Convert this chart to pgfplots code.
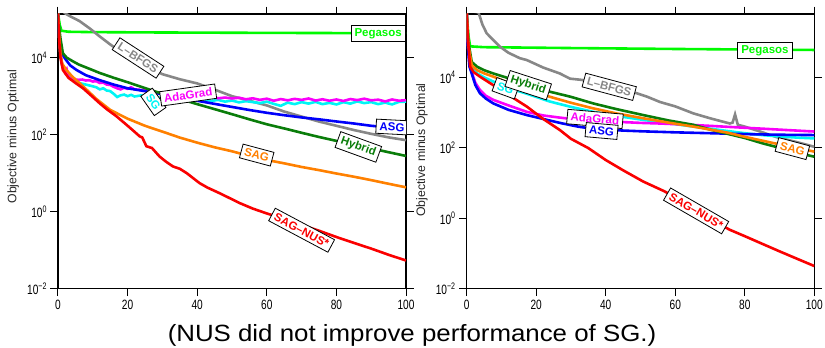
\documentclass[border=0pt]{standalone}
\usepackage{pgfplots}
\pgfplotsset{compat=1.18}
\usepackage{fontspec}
\setmainfont{Liberation Sans}
\newfontfamily\tickfont[FakeStretch=0.75]{Liberation Sans}
\newfontfamily\capfont[FakeStretch=1.1]{Liberation Sans}
\definecolor{cPeg}{RGB}{0,250,0}
\definecolor{cLbf}{RGB}{135,135,135}
\definecolor{cSG}{RGB}{0,245,245}
\definecolor{cAda}{RGB}{250,0,250}
\definecolor{cASG}{RGB}{0,0,250}
\definecolor{cHyb}{RGB}{10,125,10}
\definecolor{cSAG}{RGB}{255,128,0}
\definecolor{cNUS}{RGB}{250,0,0}
\tikzset{lbl/.style={draw=black, line width=0.8pt, fill=white, inner xsep=3.5pt, inner ysep=3pt, font=\bfseries\fontsize{11.5}{12}\selectfont}}
\begin{document}
\begin{tikzpicture}
\useasboundingbox (0,0) rectangle (825pt,348pt);
% ---------------- left panel ----------------
\begin{axis}[at={(58pt,59.3pt)}, anchor=south west,
    scale only axis, width=348pt, height=274.7pt,
    ymode=log, xmin=0, xmax=100, ymin=1e-2, ymax=1.36e5,
    xtick={0,20,40,60,80,100}, xticklabels={0,20,40,60,80,100},
    ytick={1e-2,1,1e2,1e4},
    yticklabels={10\textsuperscript{−2},10\textsuperscript{0},10\textsuperscript{2},10\textsuperscript{4}},
    yminorticks=false, xminorticks=false,
    tick align=outside, major tick length=7.5pt,
    tick style={black, line width=1pt},
    axis line style={line width=1.3pt},
    xticklabel style={font=\tickfont\fontsize{13.5}{15}\selectfont},
    yticklabel style={font=\tickfont\fontsize{13.5}{15}\selectfont},
    ylabel={Objective minus Optimal},
    every axis y label/.style={at={(axis description cs:-0.129,0.553)}, rotate=90, anchor=center, font=\fontsize{12.3}{14}\selectfont, text=black!85}]
\addplot[cPeg, line width=2.6pt] coordinates {(0,1.4e5)(0.5,7.1e4)(1,5.0e4)(3,4.7e4)(10,4.6e4)(30,4.5e4)(60,4.4e4)(100,4.3e4)};
\addplot[cLbf, line width=2.6pt] coordinates {(0,2.0e5)(2.4,1.35e5)(4,1.12e5)(6.2,8.9e4)(9.1,5.75e4)(12,3.55e4)(14.9,2.24e4)(18,1.41e4)(21,9.1e3)(25,6.0e3)(30,3.72e3)(35,2.75e3)(40,2.14e3)(45,1.48e3)(50,1.0e3)(55,7.6e2)(60,5.75e2)(65,3.98e2)(70,2.95e2)(75,2.19e2)(80,1.7e2)(85,1.32e2)(90,1.05e2)(95,85)(100,72)};
\addplot[cSG, line width=2.6pt] coordinates {(0,1.4e5)(0.3,4e4)(0.7,1.26e4)(1.2,6.3e3)(2,4.5e3)(3,3.5e3)(4,2.8e3)(5,2.5e3)(6,2.2e3)(7,2.1e3)(8,2.0e3)(10,1.8e3)(11,1.7e3)(12,1.5e3)(13,1.6e3)(14,1.4e3)(15,1.35e3)(16,1.15e3)(17,9.5e2)(18,1.05e3)(19,1.1e3)(20,1.0e3)(21,1.08e3)(22,9.8e2)(24,1.05e3)(26,9.5e2)(28,9.0e2)(30,9.3e2)(32,8.7e2)(34,9.0e2)(36,8.2e2)(38,8.6e2)(40,7.8e2)(42,8.3e2)(44,7.5e2)(46,8.0e2)(48,7.2e2)(50,7.7e2)(52,6.9e2)(54,7.4e2)(56,7.0e2)(58,6.6e2)(60,7.2e2)(62,6.3e2)(64,5.6e2)(66,6.8e2)(68,6.2e2)(70,7.0e2)(72,6.4e2)(74,7.1e2)(76,6.2e2)(78,6.7e2)(80,6.1e2)(82,7.0e2)(84,6.4e2)(86,7.3e2)(88,6.6e2)(90,7.0e2)(92,6.2e2)(94,6.8e2)(96,6.1e2)(98,7.1e2)(100,7.2e2)};
\addplot[cAda, line width=2.6pt] coordinates {(0,1.4e5)(0.3,4e4)(0.7,1.3e4)(1.2,6.5e3)(2,4.2e3)(2.5,5.0e3)(3,3.2e3)(4,2.8e3)(5,2.7e3)(6,2.65e3)(7,2.7e3)(8,2.55e3)(9,2.6e3)(10,2.4e3)(11,2.45e3)(12,2.2e3)(13,2.25e3)(14,2.0e3)(15,1.95e3)(16,1.75e3)(17,1.6e3)(18,1.5e3)(19,1.65e3)(20,1.55e3)(21,1.7e3)(22,1.5e3)(24,1.45e3)(26,1.35e3)(28,1.25e3)(30,1.2e3)(32,1.15e3)(34,1.1e3)(36,1.05e3)(38,1.0e3)(40,9.8e2)(42,9.3e2)(44,9.7e2)(46,8.8e2)(48,9.2e2)(50,8.7e2)(52,9.1e2)(54,8.3e2)(56,8.8e2)(58,8.0e2)(60,8.6e2)(62,7.6e2)(64,8.4e2)(66,7.8e2)(68,8.5e2)(70,8.0e2)(72,8.7e2)(74,7.7e2)(76,8.3e2)(78,7.6e2)(80,8.2e2)(82,7.5e2)(84,8.4e2)(86,7.9e2)(88,8.6e2)(90,7.8e2)(92,8.1e2)(94,7.3e2)(96,8.2e2)(98,7.6e2)(100,7.9e2)};
\addplot[cASG, line width=2.6pt] coordinates {(0,1.4e5)(0.3,5e4)(0.7,2.0e4)(1.2,1.26e4)(2,9.5e3)(3.5,6.3e3)(5.3,4.8e3)(8,3.5e3)(12,2.6e3)(16,2.0e3)(20,1.6e3)(25,1.35e3)(30,1.12e3)(35,9.1e2)(40,7.6e2)(45,6.3e2)(50,5.25e2)(55,4.37e2)(60,3.7e2)(65,3.2e2)(70,2.8e2)(75,2.5e2)(80,2.2e2)(85,1.95e2)(90,1.7e2)(95,1.55e2)(100,1.45e2)};
\addplot[cHyb, line width=2.6pt] coordinates {(0,1.4e5)(0.3,6.3e4)(0.7,3.2e4)(1.4,1.3e4)(2.5,1.0e4)(4,8.3e3)(6,6.6e3)(8,5.6e3)(12,4.0e3)(16,3.0e3)(20,2.3e3)(25,1.62e3)(30,1.15e3)(35,8.5e2)(40,6.2e2)(45,4.6e2)(50,3.4e2)(55,2.5e2)(60,1.86e2)(65,1.45e2)(70,1.12e2)(75,87)(80,69)(85,55)(90,44)(95,35)(100,28)};
\addplot[cSAG, line width=2.6pt] coordinates {(0,1.4e5)(0.3,4e4)(0.7,1.26e4)(1.2,7.0e3)(2.4,4.8e3)(4,3.3e3)(7.2,1.8e3)(11,8.5e2)(15,4.4e2)(20,2.6e2)(25,1.7e2)(30,1.2e2)(35,84)(40,62)(45,47)(50,37)(55,28)(60,22)(65,18)(70,14.5)(75,12)(80,9.8)(85,8.1)(90,6.6)(95,5.3)(100,4.3)};
\addplot[cNUS, line width=2.6pt] coordinates {(0,1.4e5)(0.3,3.2e4)(0.7,1.0e4)(1.4,4.8e3)(3,3.0e3)(5,2.2e3)(7.2,1.6e3)(10,9.5e2)(12,6.5e2)(14,4.6e2)(16.8,3.0e2)(19.7,1.8e2)(21.5,1.3e2)(23.5,90)(24.2,85)(25.4,50)(27,45)(29.2,27)(31,20)(33,15)(35,13)(37,10)(40.7,5.5)(43,4.2)(46.5,3.0)(50,2.1)(52.3,1.66)(56,1.2)(60,0.9)(65,0.65)(70,0.45)(75,0.32)(80,0.22)(85,0.155)(90,0.11)(95,0.076)(100,0.054)};
\node[lbl, text=cPeg] at (axis cs:92,4.2e4) {Pegasos};
\node[lbl, text=cLbf, rotate=-33] at (axis cs:23,9.8e3) {L–BFGS};
\node[lbl, text=cSG, rotate=-55] at (axis cs:27.4,7.1e2) {SG};
\node[lbl, text=cAda, rotate=8] at (axis cs:37.4,1.07e3) {AdaGrad};
\node[lbl, text=cASG, rotate=-3] at (axis cs:96,158) {ASG};
\node[lbl, text=cHyb, rotate=-20] at (axis cs:86.3,48) {Hybrid};
\node[lbl, text=cSAG, rotate=-15] at (axis cs:57.1,29.5) {SAG};
\node[lbl, text=cNUS, rotate=-28] at (axis cs:70,0.33) {SAG–NUS*};
\end{axis}
% ---------------- right panel ----------------
\begin{axis}[at={(466.7pt,59.3pt)}, anchor=south west,
    scale only axis, width=347.6pt, height=274.7pt,
    ymode=log, xmin=0, xmax=100, ymin=1e-2, ymax=6.3e5,
    xtick={0,20,40,60,80,100}, xticklabels={0,20,40,60,80,100},
    ytick={1e-2,1,1e2,1e4},
    yticklabels={10\textsuperscript{−2},10\textsuperscript{0},10\textsuperscript{2},10\textsuperscript{4}},
    yminorticks=false, xminorticks=false,
    tick align=outside, major tick length=7.5pt,
    tick style={black, line width=1pt},
    axis line style={line width=1.3pt},
    xticklabel style={font=\tickfont\fontsize{13.5}{15}\selectfont},
    yticklabel style={font=\tickfont\fontsize{13.5}{15}\selectfont},
    ylabel={Objective minus Optimal},
    every axis y label/.style={at={(axis description cs:-0.129,0.505)}, rotate=90, anchor=center, font=\fontsize{12.3}{14}\selectfont, text=black!85}]
\addplot[cPeg, line width=2.6pt] coordinates {(0,6.5e5)(0.5,1.5e5)(1,7.6e4)(5,7.2e4)(30,6.8e4)(60,6.4e4)(100,6.0e4)};
\addplot[cLbf, line width=2.6pt] coordinates {(0,8e5)(3.4,7e5)(4.5,3.2e5)(5.75,1.78e5)(7.65,1.15e5)(9.6,7.4e4)(12,5.0e4)(15.3,3.5e4)(17.3,3.1e4)(22,1.9e4)(26.8,1.29e4)(29.7,9.2e3)(33,8.5e3)(36,7.6e3)(40,6.3e3)(45,4.8e3)(48.9,3.55e3)(52,2.8e3)(55.6,2.0e3)(60,1.5e3)(65.2,9.5e2)(70,6.9e2)(75.7,4.9e2)(76.5,5.2e2)(77.2,8.9e2)(78,4.5e2)(80,4.0e2)(84.4,2.9e2)(89.2,2.0e2)(95,1.45e2)(100,1.07e2)};
\addplot[cSG, line width=2.6pt] coordinates {(0,6.5e5)(0.5,6e4)(1.44,2.0e4)(3,1.3e4)(5,1.0e4)(7.65,7.6e3)(12,5.0e3)(17,3.5e3)(24,2.05e3)(30,1.45e3)(36.4,1.05e3)(43,8.1e2)(50.8,6.2e2)(58,5.0e2)(65.2,4.0e2)(70,3.5e2)(75,3.0e2)(80,2.6e2)(85,2.3e2)(90,2.1e2)(95,1.95e2)(100,1.85e2)};
\addplot[cAda, line width=2.6pt] coordinates {(0,6.5e5)(0.3,1.0e5)(0.8,2.5e4)(1.44,1.4e4)(2.5,7.0e3)(3.8,4.4e3)(5.5,3.0e3)(7.65,2.3e3)(12,1.6e3)(17.3,1.05e3)(22,8.3e2)(26.8,7.2e2)(32,6.3e2)(37,5.8e2)(42.8,5.5e2)(50,5.1e2)(55.6,4.9e2)(62,4.6e2)(70,4.2e2)(78,3.8e2)(85,3.5e2)(92,3.2e2)(100,2.9e2)};
\addplot[cASG, line width=2.6pt] coordinates {(0,6.5e5)(0.3,8e4)(0.8,2.0e4)(1.44,1.29e4)(2.5,6.0e3)(3.8,3.55e3)(5.5,2.5e3)(7.65,1.82e3)(12,1.2e3)(17.3,8.5e2)(22,6.6e2)(26.8,5.1e2)(32,4.0e2)(37,3.4e2)(44.7,3.1e2)(50,2.95e2)(60,2.75e2)(70,2.6e2)(80,2.45e2)(90,2.35e2)(100,2.3e2)};
\addplot[cHyb, line width=2.6pt] coordinates {(0,6.5e5)(0.5,1.0e5)(1.44,2.75e4)(3,2.0e4)(5,1.6e4)(7.65,1.29e4)(12,9.5e3)(17,6.3e3)(24,3.9e3)(30,2.8e3)(36.4,1.82e3)(43,1.26e3)(50.8,8.5e2)(58,6.0e2)(65.2,4.5e2)(70,3.3e2)(75,2.5e2)(80,1.9e2)(85,1.35e2)(90,1.0e2)(95,72)(100,56)};
\addplot[cSAG, line width=2.6pt] coordinates {(0,6.5e5)(0.5,8e4)(1.44,2.2e4)(3,1.6e4)(5,1.3e4)(7.65,1.05e4)(12,7.0e3)(17,4.6e3)(24,2.8e3)(30,1.9e3)(36.4,1.32e3)(43,9.5e2)(50.8,6.9e2)(58,5.2e2)(65.2,4.0e2)(70,3.3e2)(75,2.7e2)(80,2.05e2)(85,1.6e2)(90,1.25e2)(95,98)(100,78)};
\addplot[cNUS, line width=2.6pt] coordinates {(0,6.5e5)(0.3,1.5e5)(0.6,5.9e4)(1,2.0e4)(2,1.41e4)(3.8,1.05e4)(7.65,6.0e3)(12,3.2e3)(17.3,1.48e3)(22,6.6e2)(26.8,3.2e2)(30,1.8e2)(35,98)(40,45)(45,23)(50.8,11)(56.6,6.0)(60,4.0)(65,1.9)(70,0.95)(75.7,0.47)(80,0.31)(84.4,0.2)(90,0.115)(95,0.071)(100,0.044)};
\node[lbl, text=cPeg] at (axis cs:85.8,5.75e4) {Pegasos};
\node[lbl, text=cLbf, rotate=-15] at (axis cs:41,5.4e3) {L–BFGS};
\node[lbl, text=cSG, rotate=-20] at (axis cs:11.2,4.9e3) {SG};
\node[lbl, text=cHyb, rotate=-18] at (axis cs:17.7,6.0e3) {Hybrid};
\node[lbl, text=cAda, rotate=-5] at (axis cs:36.9,6.6e2) {AdaGrad};
\node[lbl, text=cASG, rotate=-5] at (axis cs:38.8,3.0e2) {ASG};
\node[lbl, text=cSAG, rotate=-15] at (axis cs:93.7,95) {SAG};
\node[lbl, text=cNUS, rotate=-30] at (axis cs:66,1.62) {SAG–NUS*};
\end{axis}
\node[anchor=base, inner sep=0pt, font=\capfont\fontsize{23.5}{26}\selectfont] at (412pt,6pt) {(NUS did not improve performance of SG.)};
\end{tikzpicture}
\end{document}
